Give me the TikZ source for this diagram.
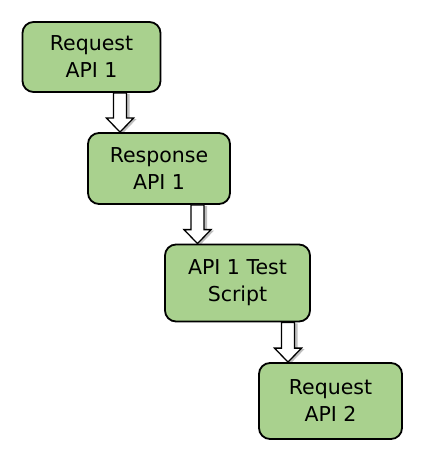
\documentclass[tikz,border=0pt]{standalone}
\usepackage{fontspec}
\setmainfont{DejaVu Sans}
\usetikzlibrary{calc,shadows}
\definecolor{boxgreen}{HTML}{A9D18E}

% block arrow from a start point down to the top of a node
\newcommand{\blockarrow}[2]{%
  \draw[arrowbody] ($(#1)+(-6.5,0)$) -- ($(#1 |- #2.north)+(-6.5,-14)$)
    -- ($(#1 |- #2.north)+(-13.5,-14)$) -- (#1 |- #2.north)
    -- ($(#1 |- #2.north)+(13.5,-14)$) -- ($(#1 |- #2.north)+(6.5,-14)$)
    -- ($(#1)+(6.5,0)$) -- cycle;}

\begin{document}
\begin{tikzpicture}[x=1pt,y=-1pt,
    stepbox/.style={draw, line width=1.8pt, fill=boxgreen, rounded corners=11pt,
      align=center, inner sep=0pt, font=\fontsize{20.5}{27}\selectfont},
    arrowbody/.style={draw, line width=1.3pt, fill=white, line join=miter,
      drop shadow={shadow xshift=3pt, shadow yshift=-1pt, fill=black, opacity=.25}}]
      \useasboundingbox (0,0) rectangle (421,454);

      % the four steps
      \node (req1) at (91.5,57) [stepbox, minimum width=138pt, minimum height=70pt] {Request\\API 1};
      \node (resp1) at (159,168.5) [stepbox, minimum width=142pt, minimum height=71pt] {Response\\API 1};
      \node (test1) at (237.5,283) [stepbox, minimum width=145pt, minimum height=77pt] {API 1 Test\\Script};
      \node (req2) at (330.5,401) [stepbox, minimum width=143pt, minimum height=76pt] {Request\\API 2};

      % arrows between them
      \coordinate (s1) at ([xshift=28.5pt]req1.south);
      \coordinate (s2) at ([xshift=38.5pt]resp1.south);
      \coordinate (s3) at ([xshift=50.5pt]test1.south);
      \blockarrow{s1}{resp1}
      \blockarrow{s2}{test1}
      \blockarrow{s3}{req2}
\end{tikzpicture}
\end{document}
